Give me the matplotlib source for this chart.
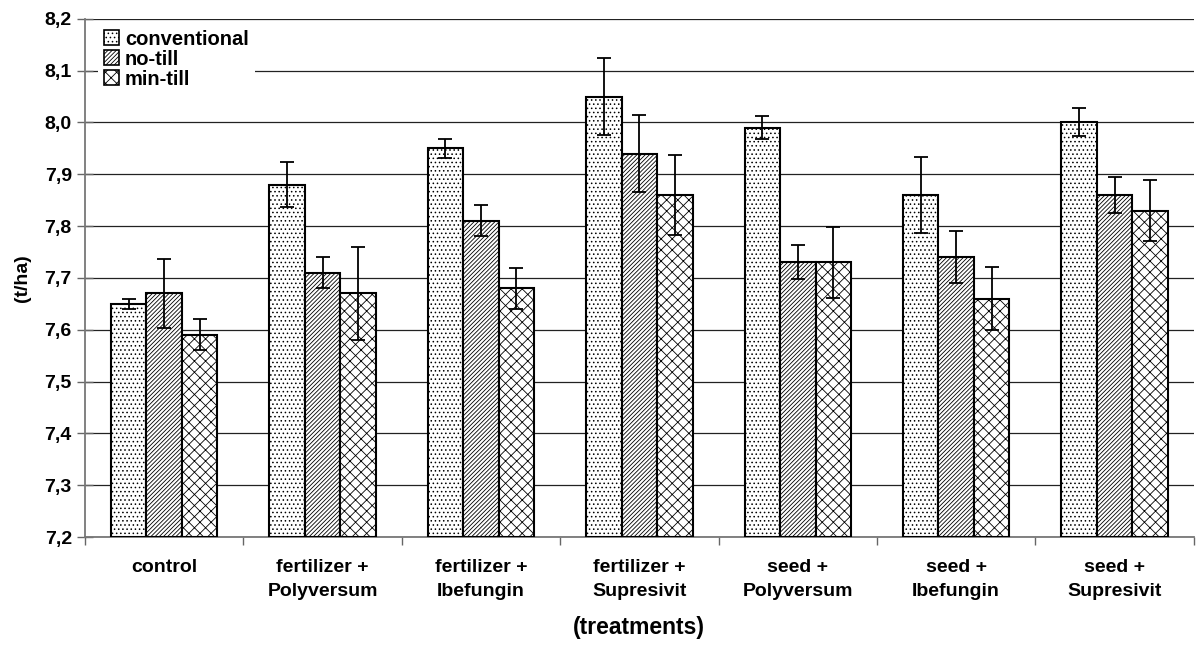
import numpy as np
import matplotlib
matplotlib.use('Agg')
import matplotlib.pyplot as plt
from matplotlib.ticker import FixedLocator, FuncFormatter

plt.rcParams['font.family'] = ['Liberation Sans', 'DejaVu Sans']
plt.rcParams['hatch.linewidth'] = 0.6

categories = ['control', 'fertilizer +\nPolyversum', 'fertilizer +\nIbefungin',
              'fertilizer +\nSupresivit', 'seed +\nPolyversum', 'seed +\nIbefungin',
              'seed +\nSupresivit']
series = ['conventional', 'no-till', 'min-till']
conventional = [7.65, 7.88, 7.95, 8.05, 7.99, 7.86, 8.00]
no_till = [7.67, 7.71, 7.81, 7.94, 7.73, 7.74, 7.86]
min_till = [7.59, 7.67, 7.68, 7.86, 7.73, 7.66, 7.83]
err_conventional = [0.01, 0.043, 0.018, 0.075, 0.022, 0.074, 0.027]
err_no_till = [0.067, 0.03, 0.03, 0.075, 0.033, 0.05, 0.035]
err_min_till = [0.03, 0.09, 0.04, 0.078, 0.068, 0.061, 0.059]

values = [conventional, no_till, min_till]
errors = [err_conventional, err_no_till, err_min_till]
hatches = ['....', '////////', 'xxx']

fig = plt.figure(figsize=(12, 6.47), dpi=100)
ax = fig.add_axes([0.0708, 0.17, 0.924, 0.801])

x = np.arange(len(categories))
width = 0.224
base = 7.2
for i, (vals, errs, h) in enumerate(zip(values, errors, hatches)):
    pos = x + (i - 1) * width
    heights = np.array(vals) - base
    ax.bar(pos, heights, width, bottom=base, color='white', edgecolor='black',
           linewidth=1.5, hatch=h, label=series[i], zorder=3)
    ax.errorbar(pos, vals, yerr=errs, fmt='none', ecolor='black',
                elinewidth=1.3, capsize=5, capthick=1.3, zorder=4)

ax.set_ylim(7.2, 8.2)
ax.set_xlim(-0.5, len(categories) - 0.5)
ax.set_yticks(np.arange(7.2, 8.21, 0.1))
ax.yaxis.set_major_formatter(FuncFormatter(lambda v, p: f'{v:.1f}'.replace('.', ',')))
ax.yaxis.grid(True, color='#222222', linewidth=0.9, zorder=0)

ax.set_xticks(x)
ax.set_xticklabels(categories, linespacing=1.5)
ax.tick_params(axis='x', which='major', length=0, pad=16)
ax.xaxis.set_minor_locator(FixedLocator(np.arange(-0.5, len(categories), 1)))
ax.tick_params(axis='x', which='minor', length=6, color='#666666', width=1)
ax.tick_params(axis='y', length=11, direction='inout', color='#666666', width=1, pad=4)

for lbl in ax.get_xticklabels() + ax.get_yticklabels():
    lbl.set_fontweight('bold')
    lbl.set_fontsize(14)

for s in ['top', 'right']:
    ax.spines[s].set_visible(False)
for s in ['left', 'bottom']:
    ax.spines[s].set_color('#777777')
    ax.spines[s].set_linewidth(1.3)

ax.set_ylabel('(t/ha)', fontsize=14, fontweight='bold', labelpad=10)
ax.set_xlabel('(treatments)', fontsize=16.5, fontweight='bold', labelpad=12)

leg = ax.legend(loc='upper left', frameon=True, prop={'weight': 'bold', 'size': 14.5},
                handlelength=0.75, handleheight=0.75, handletextpad=0.3,
                labelspacing=0.05, borderaxespad=0.2, borderpad=0.3,
                bbox_to_anchor=(0.008, 0.998))
leg.get_frame().set_facecolor('white')
leg.get_frame().set_edgecolor('none')
leg.get_frame().set_alpha(1)
leg.set_zorder(5)
for patch in leg.get_patches():
    patch.set_linewidth(1.2)

fig.savefig('out.png', dpi=100, facecolor='white')
